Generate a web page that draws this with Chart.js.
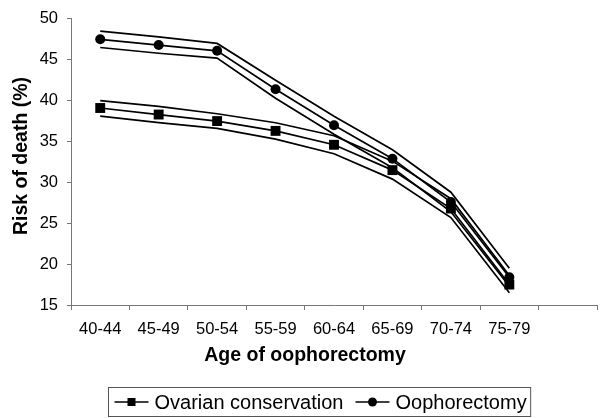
<!DOCTYPE html>
<html>
<head>
<meta charset="utf-8">
<script src="https://cdn.jsdelivr.net/npm/chart.js@4"></script>
<style>
  html, body { margin: 0; padding: 0; background: #fff; }
</style>
</head>
<body>
<canvas id="chRisk" width="604" height="418"></canvas>
<script>
// categories (last slot is empty, the axis runs on past 75-79)
var ageGroups = ['40-44', '45-49', '50-54', '55-59', '60-64', '65-69', '70-74', '75-79', ''];

// risk of death (%)
var ovarianConservation = [39.1, 38.3, 37.5, 36.3, 34.6, 31.5, 26.8, 17.5];
var ovarianUpper        = [40.0, 39.3, 38.4, 37.3, 35.7, 32.6, 28.0, 18.6];
var ovarianLower        = [38.1, 37.3, 36.6, 35.3, 33.5, 30.4, 25.7, 16.5];

var oophorectomy        = [47.5, 46.8, 46.1, 41.4, 37.0, 32.9, 27.6, 18.4];
var oophorectomyUpper   = [48.5, 47.8, 47.0, 42.5, 38.1, 34.0, 28.8, 19.5];
var oophorectomyLower   = [46.5, 45.8, 45.2, 40.3, 35.9, 31.8, 26.4, 17.3];

var seriesLabels = ['Ovarian conservation', 'Oophorectomy'];

var fontFamily = "Arial, 'Liberation Sans', sans-serif";
var axisColor = '#777';

function boundLine(data) {
  return {
    data: data,
    borderColor: '#000',
    borderWidth: 1.7,
    pointRadius: 0,
    fill: false,
    tension: 0
  };
}

// axis titles and boxed legend, drawn by hand
var extras = {
  id: 'extras',
  afterDraw: function(chart) {
    var ctx = chart.ctx;
    ctx.save();
    ctx.fillStyle = '#000';
    ctx.font = 'bold 19.5px ' + fontFamily;
    ctx.textAlign = 'center';
    ctx.textBaseline = 'middle';
    ctx.fillText('Age of oophorectomy', 305, 356);

    ctx.save();
    ctx.translate(22, 156);
    ctx.rotate(-Math.PI / 2);
    ctx.fillText('Risk of death (%)', 0, 0);
    ctx.restore();

    // legend
    ctx.font = '20px ' + fontFamily;
    ctx.textAlign = 'left';
    var boxX = 108.5, boxY = 387.5, boxH = 29;
    var cy = boxY + boxH / 2;
    var x = boxX + 6;
    var styles = ['rect', 'circle'];
    for (var i = 0; i < seriesLabels.length; i++) {
      ctx.strokeStyle = '#000';
      ctx.lineWidth = 1.7;
      ctx.beginPath();
      ctx.moveTo(x, cy);
      ctx.lineTo(x + 34, cy);
      ctx.stroke();
      ctx.fillStyle = '#000';
      if (styles[i] === 'rect') {
        ctx.fillRect(x + 17 - 4, cy - 4, 8, 8);
      } else {
        ctx.beginPath();
        ctx.arc(x + 17, cy, 4.5, 0, Math.PI * 2);
        ctx.fill();
      }
      x += 40;
      ctx.fillText(seriesLabels[i], x, cy + 1);
      x += ctx.measureText(seriesLabels[i]).width + 12;
    }
    ctx.strokeStyle = '#555';
    ctx.lineWidth = 1;
    ctx.strokeRect(boxX, boxY, x - boxX - 8, boxH);
    ctx.restore();
  }
};

new Chart(document.getElementById('chRisk'), {
  type: 'line',
  data: {
    labels: ageGroups,
    datasets: [
      boundLine(ovarianUpper),
      boundLine(ovarianLower),
      {
        label: seriesLabels[0],
        data: ovarianConservation,
        borderColor: '#000',
        backgroundColor: '#000',
        borderWidth: 1.7,
        pointStyle: 'rect',
        pointRadius: 7,
        pointBorderWidth: 0,
        tension: 0
      },
      boundLine(oophorectomyUpper),
      boundLine(oophorectomyLower),
      {
        label: seriesLabels[1],
        data: oophorectomy,
        borderColor: '#000',
        backgroundColor: '#000',
        borderWidth: 1.7,
        pointStyle: 'circle',
        pointRadius: 5,
        pointBorderWidth: 0,
        tension: 0
      }
    ]
  },
  options: {
    responsive: false,
    animation: false,
    layout: { padding: { top: 17, right: 0, bottom: 0, left: 0 } },
    plugins: {
      legend: { display: false },
      tooltip: { enabled: false }
    },
    scales: {
      x: {
        offset: true,
        grid: { offset: true, drawOnChartArea: false, tickLength: 5, color: axisColor },
        border: { color: axisColor },
        ticks: { color: '#000', font: { size: 16.5, family: fontFamily }, padding: 10, maxRotation: 0, autoSkip: false },
        afterFit: function(scale) { scale.height = 113; }
      },
      y: {
        min: 15,
        max: 50,
        grid: { drawOnChartArea: false, tickLength: 4, color: axisColor },
        border: { color: axisColor },
        ticks: { stepSize: 5, color: '#000', font: { size: 16.5, family: fontFamily }, padding: 9 },
        afterFit: function(scale) { scale.width = 71; }
      }
    }
  },
  plugins: [extras]
});
</script>
</body>
</html>
